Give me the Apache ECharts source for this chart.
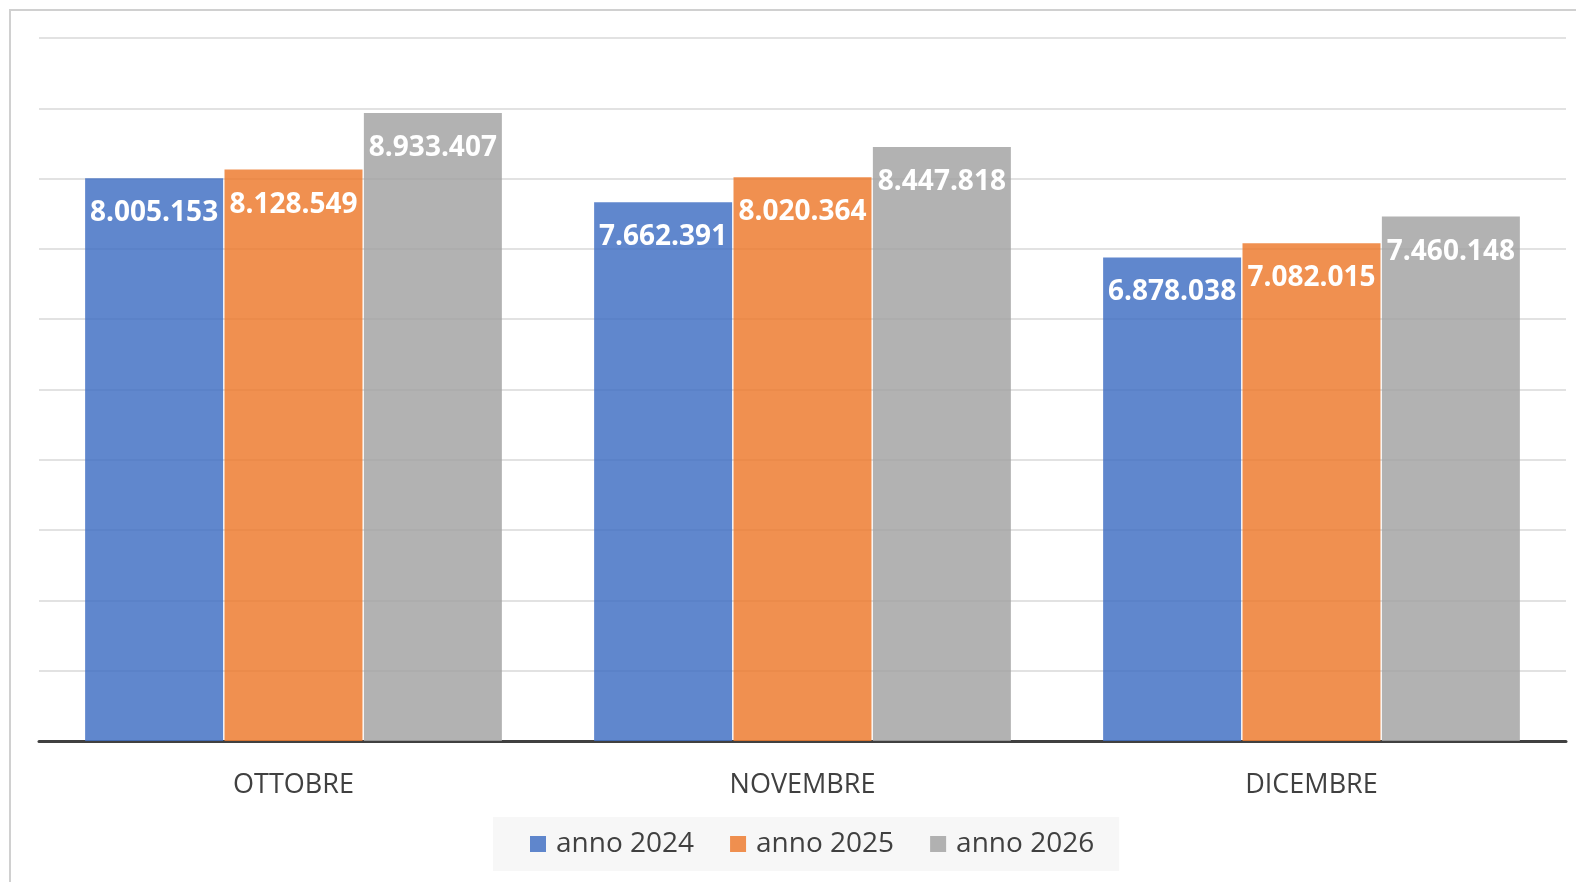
<!DOCTYPE html>
<html>
<head>
<meta charset="utf-8">
<script src="https://cdn.jsdelivr.net/npm/echarts@6/dist/echarts.min.js"></script>
<style>
    html, body { margin: 0; padding: 0; background: #fff; }
    .container { width: 1576px; height: 882px; }
</style>
</head>
<body>
<div class="container"></div>
<script>
const categories = ['OTTOBRE', 'NOVEMBRE', 'DICEMBRE'];
const seriesNames = ['anno 2024', 'anno 2025', 'anno 2026'];
const anno2024 = [8005153, 7662391, 6878038];
const anno2025 = [8128549, 8020364, 7082015];
const anno2026 = [8933407, 8447818, 7460148];
const colors = ['rgba(68,114,196,0.85)', 'rgba(237,125,49,0.85)', 'rgba(165,165,165,0.85)'];

(function () {
    let myChart = echarts.init(document.querySelector('.container'));

    // formato italiano: 8.005.153
    const fmt = v => String(v).replace(/\B(?=(\d{3})+(?!\d))/g, '.');

    const makeSeries = (name, data, i) => ({
        name: name,
        type: 'bar',
        data: data,
        barWidth: 138,
        barGap: '1%',
        itemStyle: {
            color: colors[i]
        },
        label: {
            show: true,
            position: 'insideTop',
            distance: 21,
            color: '#fff',
            fontFamily: 'Open Sans',
            fontWeight: 'bold',
            fontSize: 28,
            formatter: p => fmt(p.value)
        }
    });

    const option = {
        animation: false,
        graphic: [{
            type: 'rect',
            shape: { x: 10, y: 10, width: 1700, height: 1000 },
            style: { fill: 'none', stroke: '#d0d0d0', lineWidth: 2 },
            silent: true
        }],
        legend: {
            data: seriesNames,
            bottom: 11,
            left: 493,
            backgroundColor: '#f7f7f7',
            padding: [13, 25, 13, 37],
            itemGap: 36,
            itemWidth: 16,
            itemHeight: 16,
            icon: 'rect',
            textStyle: {
                color: '#404040',
                fontFamily: 'Open Sans',
                fontSize: 28,
                padding: [0, 0, 0, 5]
            }
        },
        grid: {
            left: 39,
            right: 10,
            top: 38,
            bottom: 141
        },
        xAxis: {
            type: 'category',
            data: categories,
            axisTick: { show: false },
            axisLine: {
                lineStyle: { color: '#404040', width: 3 }
            },
            axisLabel: {
                color: '#404040',
                fontFamily: 'Open Sans',
                fontSize: 27,
                margin: 31
            }
        },
        yAxis: {
            type: 'value',
            min: 0,
            max: 10000000,
            interval: 1000000,
            axisLabel: { show: false },
            axisLine: { show: false },
            axisTick: { show: false },
            splitLine: {
                lineStyle: { color: '#d9d9d9', width: 1.5 }
            }
        },
        series: [
            makeSeries(seriesNames[0], anno2024, 0),
            makeSeries(seriesNames[1], anno2025, 1),
            makeSeries(seriesNames[2], anno2026, 2)
        ]
    };

    myChart.setOption(option);
})();
</script>
</body>
</html>
